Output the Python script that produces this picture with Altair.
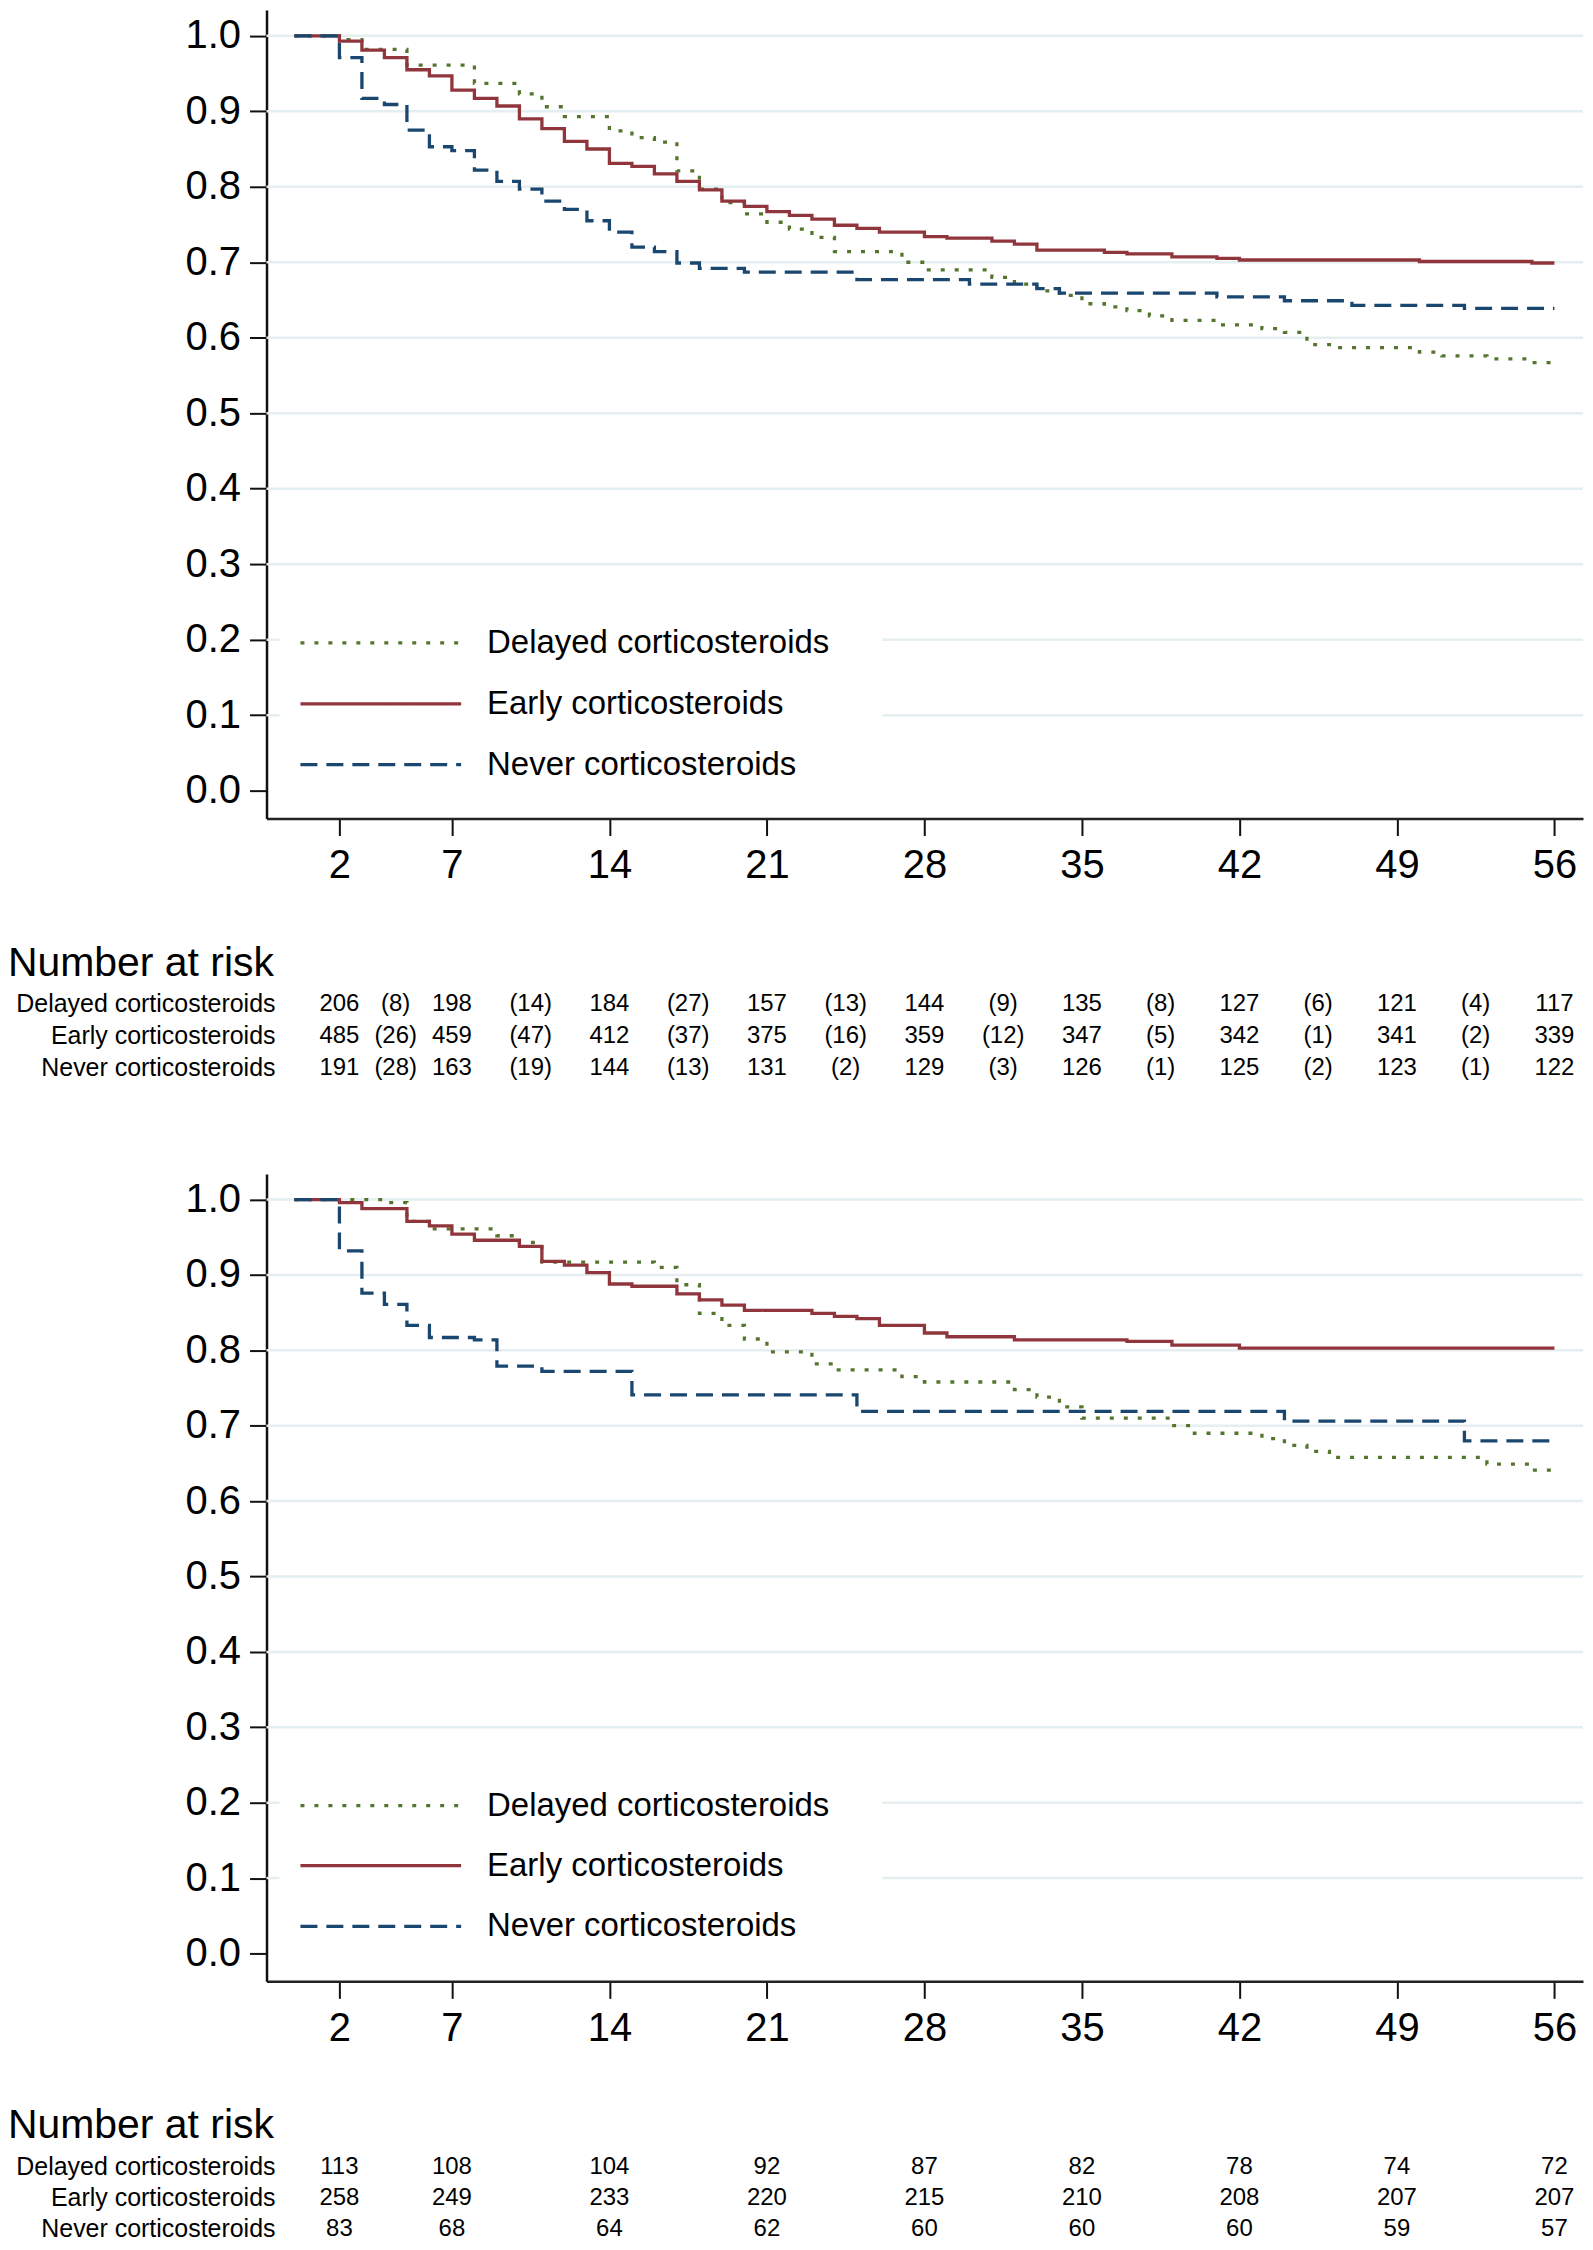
import altair as alt
import pandas as pd

FONT = "Liberation Sans"
GROUPS = ["Delayed corticosteroids", "Early corticosteroids", "Never corticosteroids"]
COLORS = ["#55752f", "#90353b", "#1a476f"]
DASHES = [[4, 10], [1, 0], [17, 9]]
TICK_DAYS = [2, 7, 14, 21, 28, 35, 42, 49, 56]
MID_DAYS = [4.5, 10.5, 17.5, 24.5, 31.5, 38.5, 45.5, 52.5]
Y_TICKS = [0.0, 0.1, 0.2, 0.3, 0.4, 0.5, 0.6, 0.7, 0.8, 0.9, 1.0]
GRID_LEVELS = [0.1, 0.2, 0.3, 0.4, 0.5, 0.6, 0.7, 0.8, 0.9, 1.0]
X_DOMAIN = [-1.24, 57.27]
Y_DOMAIN = [-0.037, 1.034]

# ---------------- Panel 1 (top) survival curves ----------------
p1_delayed_t = [0, 2, 3, 5, 8, 10, 11, 12, 14, 15, 16, 17, 18, 19, 20, 21, 22, 23, 24, 27, 28,
                31, 32, 33, 34, 35, 36, 37, 38, 39, 41, 43, 44, 45, 46, 50, 51, 53, 55, 56]
p1_delayed_s = [1.0, 0.995, 0.982, 0.961, 0.937, 0.923, 0.906, 0.893, 0.874, 0.865, 0.859, 0.821,
                0.797, 0.779, 0.764, 0.753, 0.744, 0.733, 0.714, 0.700, 0.690,
                0.680, 0.671, 0.662, 0.656, 0.645, 0.641, 0.636, 0.629, 0.623, 0.617, 0.612,
                0.607, 0.591, 0.587, 0.581, 0.576, 0.572, 0.567, 0.567]
p1_early_t = [0, 2, 3, 4, 5, 6, 7, 8, 9, 10, 11, 12, 13, 14, 15, 16, 17, 18, 19, 20, 21, 22, 23,
              24, 25, 26, 28, 29, 31, 32, 33, 36, 37, 39, 41, 42, 50, 55, 56]
p1_early_s = [1.0, 0.993, 0.981, 0.971, 0.955, 0.947, 0.928, 0.917, 0.907, 0.890, 0.877, 0.860,
              0.850, 0.831, 0.827, 0.817, 0.807, 0.796, 0.781, 0.774, 0.767, 0.762, 0.757,
              0.749, 0.745, 0.740, 0.734, 0.732, 0.728, 0.724, 0.716, 0.713, 0.711, 0.707,
              0.705, 0.703, 0.701, 0.699, 0.699]
p1_never_t = [0, 2, 3, 4, 5, 6, 7, 8, 9, 10, 11, 12, 13, 14, 15, 16, 17, 18, 20, 25, 30, 33, 34,
              41, 44, 47, 52, 56]
p1_never_s = [1.0, 0.971, 0.917, 0.909, 0.875, 0.853, 0.848, 0.822, 0.807, 0.797, 0.781, 0.770,
              0.755, 0.740, 0.720, 0.714, 0.699, 0.692, 0.687, 0.677, 0.671, 0.665, 0.659,
              0.654, 0.649, 0.643, 0.639, 0.639]

# Panel 1 number at risk (with numbers in brackets between time points)
p1_risk_delayed = ["206", "198", "184", "157", "144", "135", "127", "121", "117"]
p1_risk_early = ["485", "459", "412", "375", "359", "347", "342", "341", "339"]
p1_risk_never = ["191", "163", "144", "131", "129", "126", "125", "123", "122"]
p1_mid_delayed = ["(8)", "(14)", "(27)", "(13)", "(9)", "(8)", "(6)", "(4)"]
p1_mid_early = ["(26)", "(47)", "(37)", "(16)", "(12)", "(5)", "(1)", "(2)"]
p1_mid_never = ["(28)", "(19)", "(13)", "(2)", "(3)", "(1)", "(2)", "(1)"]

# ---------------- Panel 2 (bottom) survival curves ----------------
p2_delayed_t = [0, 4, 5, 6, 9, 10, 11, 16, 17, 18, 19, 20, 21, 23, 24, 27, 28, 32, 33, 34, 35,
                39, 40, 43, 44, 45, 46, 53, 55, 56]
p2_delayed_s = [1.0, 0.996, 0.971, 0.961, 0.952, 0.943, 0.917, 0.910, 0.887, 0.849, 0.833,
                0.815, 0.798, 0.782, 0.774, 0.765, 0.758, 0.748, 0.738, 0.725, 0.710,
                0.700, 0.690, 0.683, 0.674, 0.666, 0.658, 0.649, 0.641, 0.641]
p2_early_t = [0, 2, 3, 5, 6, 7, 8, 10, 11, 12, 13, 14, 15, 17, 18, 19, 20, 23, 24, 25, 26, 28,
              29, 32, 37, 39, 42, 56]
p2_early_s = [1.0, 0.996, 0.988, 0.971, 0.965, 0.954, 0.946, 0.938, 0.918, 0.913, 0.903, 0.888,
              0.885, 0.875, 0.867, 0.860, 0.853, 0.849, 0.845, 0.842, 0.833, 0.823,
              0.818, 0.814, 0.812, 0.807, 0.803, 0.803]
p2_never_t = [0, 2, 3, 4, 5, 6, 8, 9, 11, 15, 25, 44, 52, 56]
p2_never_s = [1.0, 0.932, 0.876, 0.861, 0.833, 0.817, 0.814, 0.779, 0.772, 0.741, 0.719, 0.706,
              0.680, 0.680]

p2_risk_delayed = ["113", "108", "104", "92", "87", "82", "78", "74", "72"]
p2_risk_early = ["258", "249", "233", "220", "215", "210", "208", "207", "207"]
p2_risk_never = ["83", "68", "64", "62", "60", "60", "60", "59", "57"]

PLOT_W = 1319


def xscale():
    return alt.Scale(domain=X_DOMAIN, nice=False, zero=False)


def yscale():
    return alt.Scale(domain=Y_DOMAIN, nice=False, zero=False)


def x_axis():
    return alt.Axis(values=TICK_DAYS, tickSize=17, tickWidth=2, tickColor="#111111",
                    labelFontSize=40, labelFont=FONT, labelColor="black", labelPadding=10,
                    domainColor="#222222", domainWidth=2.5, grid=False, title=None,
                    labelFlush=False, labelOverlap=False)


def y_axis():
    return alt.Axis(values=Y_TICKS, format=".1f", tickSize=17, tickWidth=2, tickColor="#111111",
                    labelFontSize=40, labelFont=FONT, labelColor="black", labelPadding=9,
                    domainColor="#111111", domainWidth=2.5, grid=False, title=None,
                    labelFlush=False, labelOverlap=False)


def km_panel(series, height, legend_y):
    grid = alt.Chart(pd.DataFrame({"v": GRID_LEVELS})).mark_rule(
        color="#e5eef0", strokeWidth=2.5
    ).encode(y=alt.Y("v:Q", scale=yscale(), axis=y_axis()))
    box = alt.Chart(pd.DataFrame({"a": [0]})).mark_rect(color="white").encode(
        x=alt.value(13), x2=alt.value(617), y=alt.value(legend_y[0] - 40), y2=alt.value(legend_y[2] + 34)
    )
    layers = [grid, box]
    for (t, s), c, d in zip(series, COLORS, DASHES):
        df = pd.DataFrame({"t": t, "s": s})
        layers.append(
            alt.Chart(df).mark_line(interpolate="step-after", color=c, strokeWidth=3.3,
                                    strokeDash=d, strokeCap="butt").encode(
                x=alt.X("t:Q", scale=xscale(), axis=x_axis()),
                y=alt.Y("s:Q", scale=yscale(), axis=y_axis()),
            )
        )
    for g, c, d, yy in zip(GROUPS, COLORS, DASHES, legend_y):
        layers.append(
            alt.Chart(pd.DataFrame({"a": [0]})).mark_rule(color=c, strokeWidth=3.3, strokeDash=d,
                                                          strokeCap="butt").encode(
                x=alt.value(34), x2=alt.value(195), y=alt.value(yy)
            )
        )
        layers.append(
            alt.Chart(pd.DataFrame({"label": [g]})).mark_text(
                align="left", baseline="middle", fontSize=33, font=FONT, color="black"
            ).encode(x=alt.value(221), y=alt.value(yy), text="label:N")
        )
    return alt.layer(*layers).properties(width=PLOT_W, height=height)


def table_panel(risk_rows, mid_rows, height, header_y, row_y):
    layers = [
        alt.Chart(pd.DataFrame({"label": ["Number at risk"]})).mark_text(
            align="left", baseline="middle", fontSize=41, font=FONT, color="black"
        ).encode(x=alt.value(-259), y=alt.value(header_y), text="label:N")
    ]
    for i, g in enumerate(GROUPS):
        yy = row_y[i]
        layers.append(
            alt.Chart(pd.DataFrame({"label": [g]})).mark_text(
                align="right", baseline="middle", fontSize=25, font=FONT, color="black"
            ).encode(x=alt.value(9), y=alt.value(yy), text="label:N")
        )
        t = list(TICK_DAYS)
        lab = list(risk_rows[i])
        if mid_rows is not None:
            t += MID_DAYS
            lab += mid_rows[i]
        df = pd.DataFrame({"t": t, "label": lab})
        layers.append(
            alt.Chart(df).mark_text(align="center", baseline="middle", fontSize=24, font=FONT,
                                    color="black").encode(
                x=alt.X("t:Q", scale=xscale(), axis=None),
                y=alt.value(yy),
                text="label:N",
            )
        )
    return alt.layer(*layers).properties(width=PLOT_W, height=height)


km1 = km_panel([(p1_delayed_t, p1_delayed_s), (p1_early_t, p1_early_s), (p1_never_t, p1_never_s)],
               810, [634, 695, 756])
tab1 = table_panel([p1_risk_delayed, p1_risk_early, p1_risk_never],
                   [p1_mid_delayed, p1_mid_early, p1_mid_never], 356, 146, [186, 218, 250])
km2 = km_panel([(p2_delayed_t, p2_delayed_s), (p2_early_t, p2_early_s), (p2_never_t, p2_never_s)],
               809, [633, 693, 754])
tab2 = table_panel([p2_risk_delayed, p2_risk_early, p2_risk_never], None, 260, 145, [186, 217, 248])

chart = alt.vconcat(km1, tab1, km2, tab2, spacing=0, bounds="flush").properties(
    padding=0, background="white"
).configure_view(stroke=None)

chart.save("out.html", embed_options={"renderer": "svg", "actions": False})
